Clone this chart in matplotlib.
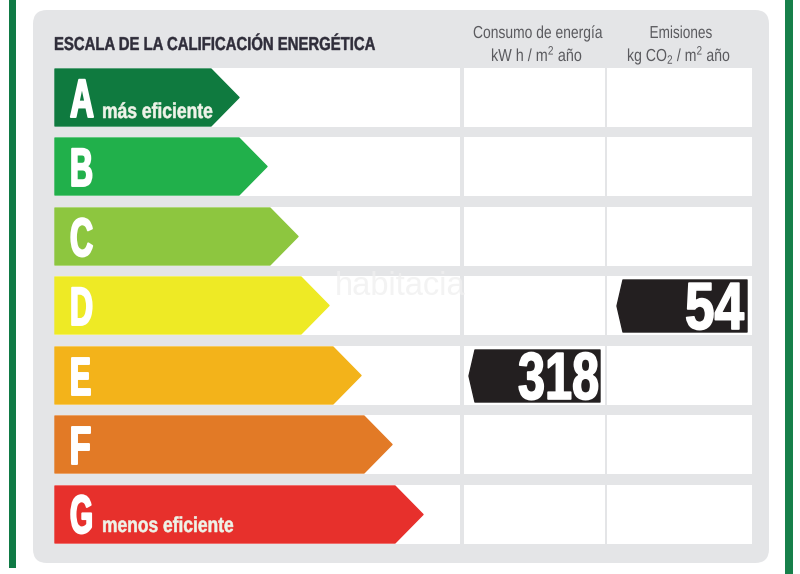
import matplotlib
matplotlib.use('Agg')
import matplotlib.pyplot as plt
from matplotlib.patches import FancyBboxPatch, Polygon, Rectangle
from matplotlib.patheffects import AbstractPathEffect
from matplotlib.transforms import Affine2D

plt.rcParams['font.family'] = ['Liberation Sans', 'DejaVu Sans']
plt.rcParams['mathtext.fontset'] = 'custom'
plt.rcParams['mathtext.rm'] = 'Liberation Sans'
plt.rcParams['mathtext.default'] = 'regular'

grades = ['A', 'B', 'C', 'D', 'E', 'F', 'G']
arrow_ends = [239, 267, 298, 329, 361, 392, 423]
colors = ['#0f7a3f', '#21b04b', '#8dc63f', '#eeea25', '#f3b31a', '#e27a26', '#e7302c']
notes = {'A': 'más eficiente', 'G': 'menos eficiente'}
row_tops = [69, 138, 208, 277, 347, 416, 486]

consumo_grade = 'E'
consumo_value = '318'
emisiones_grade = 'D'
emisiones_value = '54'

fig = plt.figure(figsize=(8, 5.74), dpi=100)
ax = fig.add_axes([0, 0, 1, 1])
ax.set_xlim(0, 800)
ax.set_ylim(574, 0)
ax.axis('off')
renderer = fig.canvas.get_renderer()


# squeeze the glyphs, no condensed font installed. bold thickens them back up
class Narrow(AbstractPathEffect):
    def __init__(self, sx, sy, x0, y0, bold=0):
        super().__init__()
        self.sx = sx
        self.sy = sy
        self.x0 = x0
        self.y0 = y0
        self.bold = bold

    def draw_path(self, renderer, gc, tpath, affine, rgbFace=None):
        squeeze = Affine2D().translate(-self.x0, -self.y0).scale(self.sx, self.sy).translate(self.x0, self.y0)
        gc0 = renderer.new_gc()
        gc0.copy_properties(gc)
        if self.bold:
            gc0.set_linewidth(self.bold)
            gc0.set_foreground(rgbFace)
        renderer.draw_path(gc0, tpath, affine + squeeze, rgbFace)
        gc0.restore()


def label(x, y, s, width, size, color, weight='bold', ha='left', sy=1, bold=0):
    t = ax.text(x, y, s, fontsize=size, color=color, fontweight=weight, ha=ha, va='baseline')
    box = t.get_window_extent(renderer)
    anchor = {'left': box.x0, 'right': box.x1, 'center': (box.x0 + box.x1) / 2}[ha]
    y0 = ax.transData.transform((x, y))[1]
    t.set_path_effects([Narrow(width / box.width, sy, anchor, y0, bold)])
    return t


# green side lines
ax.add_patch(Rectangle((9, 0), 7, 568, color='#0f7a45', lw=0))
ax.add_patch(Rectangle((785, 0), 8, 574, color='#17804a', lw=0))

# grey panel
ax.add_patch(FancyBboxPatch((33, 10), 736, 553, boxstyle='round,pad=0,rounding_size=14',
                            fc='#e4e5e7', ec='none', lw=0))

label(54, 50, 'ESCALA DE LA CALIFICACIÓN ENERGÉTICA', 321, 13.5, '#2f2d3a', bold=0.3)
label(538, 38, 'Consumo de energía', 130, 12.5, '#5a5a5e', weight='normal', ha='center')
label(537, 61, 'kW h / m$^2$ año', 92, 12.5, '#5a5a5e', weight='normal', ha='center')
label(681, 38, 'Emisiones', 63, 12.5, '#5a5a5e', weight='normal', ha='center')
label(679, 61, 'kg CO$_2$ / m$^2$ año', 104, 12.5, '#5a5a5e', weight='normal', ha='center')

row_h = 57
letter_widths = [24, 23, 23, 23, 21, 21, 23]
for i, g in enumerate(grades):
    top = row_tops[i]
    # white cells
    ax.add_patch(Rectangle((55, top - 1), 405, row_h + 2, color='white', lw=0))
    ax.add_patch(Rectangle((464, top - 1), 141, row_h + 2, color='white', lw=0))
    ax.add_patch(Rectangle((607, top - 1), 145, row_h + 2, color='white', lw=0))
    # arrow
    end = arrow_ends[i]
    ax.add_patch(Polygon([(55, top), (end - 28, top), (end, top + row_h / 2), (end - 28, top + row_h),
                          (55, top + row_h)], closed=True, fc=colors[i], ec=colors[i], lw=1, joinstyle='round'))
    base = top + 48 if g != 'G' else top + 47
    label(70, base, g, letter_widths[i], 27, 'white', sy=39 / 27, bold=1.4)
    if g in notes:
        label(102, top + 49 if g == 'A' else top + 46, notes[g], 111 if g == 'A' else 132, 15.5, '#eef3e8', bold=0.4)


def value_tag(grade, value, left, right, text_right, text_width):
    top = row_tops[grades.index(grade)] + 3
    h = 52
    ax.add_patch(Polygon([(left + 6, top), (right, top), (right, top + h), (left + 6, top + h), (left, top + h / 2)],
                         closed=True, fc='#231f20', ec='#231f20', lw=1, joinstyle='round'))
    label(text_right, top + h - 3, value, text_width, 48, 'white', ha='right', bold=1.2)


value_tag(consumo_grade, consumo_value, 469, 600, 599, 81)
value_tag(emisiones_grade, emisiones_value, 617, 747, 744, 59)

# watermark
ax.text(400, 295, 'habitacia', fontsize=23.5, color='#f0f0f0', alpha=0.8, ha='center', va='baseline')

fig.savefig('out.png', dpi=100, facecolor='white')
